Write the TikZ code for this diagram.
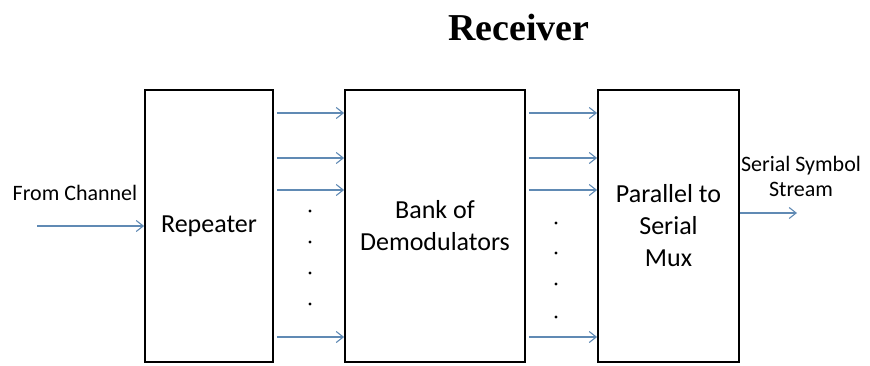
\documentclass[tikz,border=0pt]{standalone}
\usepackage{fontspec}
\setmainfont{Carlito}
\newfontfamily\titlefont{Liberation Serif}
\usetikzlibrary{arrows.meta}
\definecolor{sigblue}{RGB}{96,138,180}
\begin{document}
\begin{tikzpicture}[x=1pt, y=-1pt,
    block/.style={draw, line width=1.8pt, minimum height=272pt, inner sep=0pt, align=center, font=\fontsize{26}{32}\selectfont},
    sig/.style={draw=sigblue, line width=1.1pt, -{Straight Barb[length=7pt,width=11pt]}},
    lbl/.style={align=center, inner sep=0pt, font=\fontsize{22}{25}\selectfont},
    dot/.style={fill, circle, inner sep=0pt, minimum size=3.2pt}]
    \useasboundingbox (0,0) rectangle (870,365);
    \node (title) at (519,27) {\titlefont\fontsize{38}{40}\selectfont\bfseries Receiver};
    \node[block, minimum width=128pt] (rep) at (209,226) {Repeater};
    \node[block, minimum width=180pt] (dem) at (435,226) {Bank of\\Demodulators};
    \node[block, minimum width=141pt] (mux) at (668.5,226) {Parallel to\\Serial\\Mux};
    \coordinate (in) at (37,226);
    \coordinate (out) at (797,213);
    \node[lbl] (fromlbl) at (75,193) {From Channel};
    \node[lbl] (outlbl) at (801,176) {Serial Symbol\\Stream};
    \draw[sig] (in) -- (rep.west);
    \draw[sig] (mux.east |- out) -- (out);
    \foreach \y in {113,158,190,337} {
        \draw[sig] ([xshift=3pt]rep.east |- 0,\y) -- (dem.west |- 0,\y);
        \draw[sig] ([xshift=3pt]dem.east |- 0,\y) -- (mux.west |- 0,\y);
    }
    \foreach \y in {211,242,273,304}
        \node[dot] at (310,\y) {};
    \foreach \y in {223,253,284,317}
        \node[dot] at (556,\y) {};
\end{tikzpicture}
\end{document}
